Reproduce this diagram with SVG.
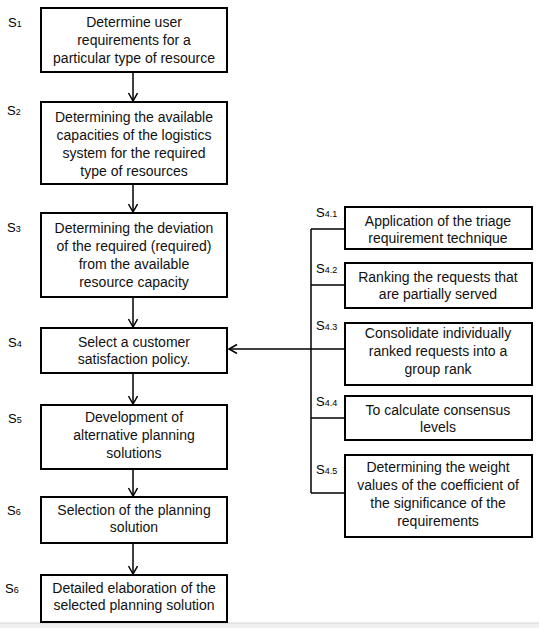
<svg xmlns="http://www.w3.org/2000/svg" width="539" height="628" viewBox="0 0 539 628">
<style>
.box{fill:#fff;stroke:#000;stroke-width:2}
.t{font-family:"Liberation Sans",Arial,sans-serif;font-size:14px;fill:#111;text-anchor:middle}
.s{font-family:"Liberation Sans",Arial,sans-serif;font-size:13px;fill:#000}
.sub{font-size:9px}
.c{fill:none;stroke:#000;stroke-width:1.5}
</style>
<defs>
<marker id="arr" markerUnits="userSpaceOnUse" markerWidth="12" markerHeight="12" refX="9" refY="5" orient="auto">
<path d="M1,0.5 L9,5 L1,9.5" fill="none" stroke="#000" stroke-width="1.5"/>
</marker>
</defs>
<rect x="0" y="0" width="539" height="628" fill="#fff"/>
<rect x="0" y="623" width="539" height="5" fill="#f0f0f0"/>
<line x1="0" y1="623" x2="539" y2="623" stroke="#d4d4d4" stroke-width="1"/>
<g id="connectors">
<line class="c" x1="133" y1="72" x2="133" y2="101" marker-end="url(#arr)"/>
<line class="c" x1="133" y1="184" x2="133" y2="212" marker-end="url(#arr)"/>
<line class="c" x1="133" y1="297" x2="133" y2="327" marker-end="url(#arr)"/>
<line class="c" x1="133" y1="373" x2="133" y2="404" marker-end="url(#arr)"/>
<line class="c" x1="133" y1="469" x2="133" y2="496" marker-end="url(#arr)"/>
<line class="c" x1="133" y1="543" x2="133" y2="574" marker-end="url(#arr)"/>
<line class="c" x1="311" y1="349" x2="229" y2="349" marker-end="url(#arr)"/>
<line class="c" x1="311" y1="229" x2="311" y2="493"/>
<line class="c" x1="311" y1="229" x2="345" y2="229"/>
<line class="c" x1="311" y1="285" x2="345" y2="285"/>
<line class="c" x1="311" y1="349" x2="345" y2="349"/>
<line class="c" x1="311" y1="418" x2="345" y2="418"/>
<line class="c" x1="311" y1="493" x2="345" y2="493"/>
</g>
<g id="s1">
<rect class="box" x="41" y="8" width="186" height="64"/>
<text class="t"><tspan x="134" y="27">Determine user</tspan><tspan x="134" y="45">requirements for a</tspan><tspan x="134" y="63">particular type of resource</tspan></text>
<text class="s" x="8" y="27">S<tspan class="sub">1</tspan></text>
</g>
<g id="s2">
<rect class="box" x="41" y="102" width="186" height="82"/>
<text class="t"><tspan x="134" y="122">Determining the available</tspan><tspan x="134" y="140">capacities of the logistics</tspan><tspan x="134" y="158">system for the required</tspan><tspan x="134" y="176">type of resources</tspan></text>
<text class="s" x="7" y="115">S<tspan class="sub">2</tspan></text>
</g>
<g id="s3">
<rect class="box" x="41" y="213" width="186" height="84"/>
<text class="t"><tspan x="134" y="233">Determining the deviation</tspan><tspan x="134" y="251">of the required (required)</tspan><tspan x="134" y="269">from the available</tspan><tspan x="134" y="287">resource capacity</tspan></text>
<text class="s" x="7" y="232">S<tspan class="sub">3</tspan></text>
</g>
<g id="s4">
<rect class="box" x="41" y="328" width="186" height="45"/>
<text class="t"><tspan x="134" y="347">Select a customer</tspan><tspan x="134" y="364">satisfaction policy.</tspan></text>
<text class="s" x="8" y="347">S<tspan class="sub">4</tspan></text>
</g>
<g id="s5">
<rect class="box" x="41" y="405" width="186" height="64"/>
<text class="t"><tspan x="134" y="422">Development of</tspan><tspan x="134" y="440">alternative planning</tspan><tspan x="134" y="458">solutions</tspan></text>
<text class="s" x="8" y="423">S<tspan class="sub">5</tspan></text>
</g>
<g id="s6">
<rect class="box" x="41" y="497" width="186" height="46"/>
<text class="t"><tspan x="134" y="515">Selection of the planning</tspan><tspan x="134" y="532">solution</tspan></text>
<text class="s" x="7" y="515">S<tspan class="sub">6</tspan></text>
</g>
<g id="s6b">
<rect class="box" x="41" y="575" width="186" height="47"/>
<text class="t"><tspan x="134" y="593">Detailed elaboration of the</tspan><tspan x="134" y="610">selected planning solution</tspan></text>
<text class="s" x="5" y="593">S<tspan class="sub">6</tspan></text>
</g>
<g id="s41">
<rect class="box" x="345" y="207" width="187" height="42"/>
<text class="t"><tspan x="438" y="226">Application of the triage</tspan><tspan x="438" y="243">requirement technique</tspan></text>
<text class="s" x="316" y="217">S<tspan class="sub">4.1</tspan></text>
</g>
<g id="s42">
<rect class="box" x="345" y="263" width="187" height="45"/>
<text class="t"><tspan x="438" y="282">Ranking the requests that</tspan><tspan x="438" y="299">are partially served</tspan></text>
<text class="s" x="316" y="273">S<tspan class="sub">4.2</tspan></text>
</g>
<g id="s43">
<rect class="box" x="345" y="323" width="187" height="62"/>
<text class="t"><tspan x="438" y="338">Consolidate individually</tspan><tspan x="438" y="356">ranked requests into a</tspan><tspan x="438" y="374">group rank</tspan></text>
<text class="s" x="316" y="330">S<tspan class="sub">4.3</tspan></text>
</g>
<g id="s44">
<rect class="box" x="345" y="396" width="187" height="44"/>
<text class="t"><tspan x="438" y="415">To calculate consensus</tspan><tspan x="438" y="432">levels</tspan></text>
<text class="s" x="316" y="406">S<tspan class="sub">4.4</tspan></text>
</g>
<g id="s45">
<rect class="box" x="345" y="455" width="187" height="82"/>
<text class="t"><tspan x="438" y="472">Determining the weight</tspan><tspan x="438" y="490">values of the coefficient of</tspan><tspan x="438" y="508">the significance of the</tspan><tspan x="438" y="526">requirements</tspan></text>
<text class="s" x="316" y="474">S<tspan class="sub">4.5</tspan></text>
</g>
</svg>
